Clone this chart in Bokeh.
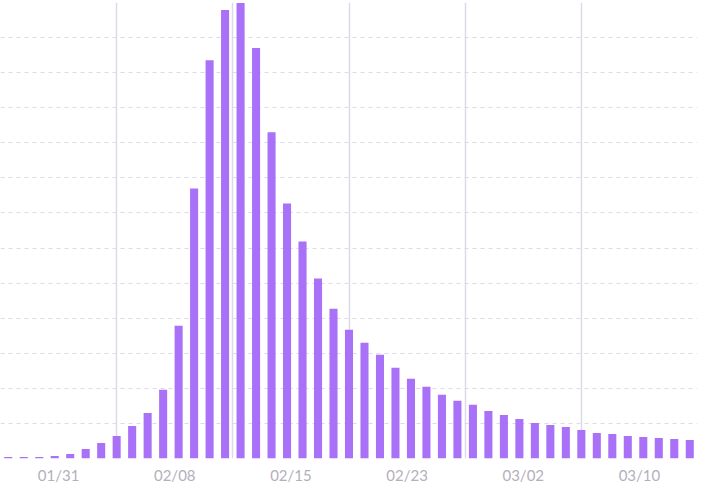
from bokeh.plotting import figure
from bokeh.models import Range1d, FixedTicker, ColumnDataSource
from bokeh.embed import file_html
from bokeh.resources import INLINE

# ---- data ----
dates = ["01/28", "01/29", "01/30", "01/31", "02/01", "02/02", "02/03", "02/04",
         "02/05", "02/06", "02/07", "02/08", "02/09", "02/10", "02/11", "02/12",
         "02/13", "02/14", "02/15", "02/16", "02/17", "02/18", "02/19", "02/20",
         "02/21", "02/22", "02/23", "02/24", "02/25", "02/26", "02/27", "02/28",
         "03/01", "03/02", "03/03", "03/04", "03/05", "03/06", "03/07", "03/08",
         "03/09", "03/10", "03/11", "03/12", "03/13"]
values = [43, 43, 43, 71, 129, 271, 443, 643, 929, 1300, 1957, 3786, 7700,
          11357, 12786, 12986, 11700, 9300, 7271, 6186, 5129, 4271, 3671,
          3300, 2957, 2586, 2271, 2043, 1814, 1643, 1529, 1357, 1243, 1129,
          1014, 957, 900, 814, 729, 700, 643, 614, 586, 557, 529]
tick_labels = ["01/31", "02/08", "02/15", "02/23", "03/02", "03/10"]
y_max = 13000
y_step = 1000

n = len(dates)
xs = list(range(n))
src = ColumnDataSource(dict(x=xs, top=values, date=dates))

p = figure(width=700, height=486, output_backend="svg", toolbar_location=None,
           x_range=Range1d(-0.5, n - 0.5), y_range=Range1d(0, y_max),
           min_border_left=0, min_border_right=3, min_border_top=2,
           min_border_bottom=0)
p.outline_line_color = None
p.background_fill_color = "white"
p.border_fill_color = "white"

p.vbar(x="x", top="top", width=0.52, bottom=0, source=src,
       fill_color="#a871f7", line_color=None)

# x axis: labels centered between split lines (6 equal segments)
nseg = len(tick_labels)
seg = n / nseg
label_pos = [-0.5 + seg * (k + 0.5) for k in range(nseg)]
split_pos = [-0.5 + seg * k for k in range(nseg)]

p.xaxis.ticker = FixedTicker(ticks=label_pos)
p.xaxis.major_label_overrides = {pos: lab for pos, lab in zip(label_pos, tick_labels)}
p.xaxis.axis_line_color = None
p.xaxis.major_tick_line_color = None
p.xaxis.minor_tick_line_color = None
p.xaxis.major_tick_out = 0
p.xaxis.major_tick_in = 0
p.xaxis.major_label_standoff = 7
p.xaxis.major_label_text_font = "Lato"
p.xaxis.major_label_text_font_size = "15px"
p.xaxis.major_label_text_color = "#b4afbb"

p.yaxis.visible = False

p.xgrid.ticker = FixedTicker(ticks=split_pos)
p.xgrid.grid_line_color = "#dcdaea"
p.xgrid.grid_line_width = 1.5

p.ygrid.ticker = FixedTicker(ticks=list(range(0, y_max + 1, y_step)))
p.ygrid.grid_line_color = "#dcdaea"
p.ygrid.grid_line_dash = "4 4"
p.ygrid.grid_line_width = 1

open("out.html", "w").write(file_html(p, INLINE))
